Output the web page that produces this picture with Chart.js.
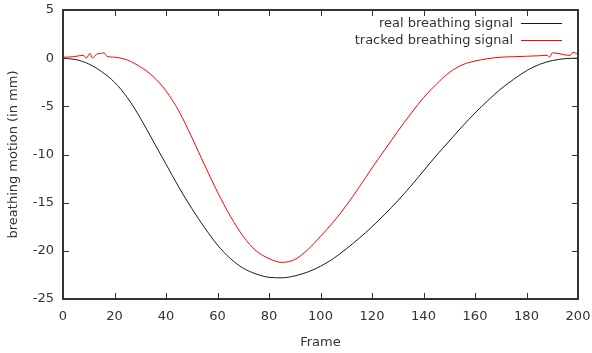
<!DOCTYPE html>
<html>
<head>
<meta charset="utf-8">
<script src="https://cdn.jsdelivr.net/npm/chart.js@4.4.1/dist/chart.umd.min.js"></script>
<style>
  body { margin: 0; background: #fff; }
  #wrap { width: 592px; height: 353px; }
</style>
</head>
<body>
<div id="wrap"><canvas id="chart"></canvas></div>
<script>
// real breathing signal (frame, mm)
const realFrames = [0, 5, 10, 15, 20, 25, 30, 35, 40, 45, 50, 55, 60, 65, 70, 75, 80, 85, 90, 95, 100,
    105, 110, 115, 120, 125, 130, 135, 140, 145, 150, 155, 160, 165, 170, 175, 180, 185, 190, 195, 200];
const realSignal = [0, -0.15, -0.6, -1.4, -2.5, -4.1, -6.2, -8.6, -11.0, -13.4, -15.6, -17.6, -19.4, -20.8, -21.8, -22.4, -22.75, -22.8, -22.6, -22.2, -21.6,
    -20.8, -19.8, -18.7, -17.5, -16.2, -14.8, -13.3, -11.7, -10.1, -8.6, -7.1, -5.7, -4.4, -3.2, -2.2, -1.3, -0.65, -0.25, -0.05, 0];

// tracked breathing signal (frame, mm)
const trackedFrames = [0, 4, 8, 9, 10.5, 11.5, 13, 15, 16, 17, 20, 25, 30, 35, 40, 45, 50, 55, 60, 65, 70, 75, 80, 85, 90,
    95, 100, 105, 110, 115, 120, 125, 130, 135, 140, 145, 150, 155, 160, 165, 170, 175, 180, 185, 188, 189, 190, 193, 196, 197, 198, 200];
const trackedSignal = [0.1, 0.15, 0.3, 0.0, 0.5, 0.0, 0.4, 0.5, 0.55, 0.2, 0.1, -0.2, -0.9, -1.9, -3.4, -5.5, -8.2, -11.1, -13.9, -16.4, -18.5, -20.0, -20.8, -21.2, -20.9,
    -19.9, -18.5, -17.0, -15.3, -13.4, -11.4, -9.5, -7.6, -5.8, -4.1, -2.7, -1.5, -0.7, -0.3, -0.05, 0.1, 0.15, 0.2, 0.25, 0.3, 0.1, 0.55, 0.45, 0.3, 0.3, 0.6, 0.4];

const xTicks = [0, 20, 40, 60, 80, 100, 120, 140, 160, 180, 200];
const yTicks = [-25, -20, -15, -10, -5, 0, 5];

const textColor = '#333';
const frameColor = '#333';
const font = { family: 'DejaVu Sans', size: 13 };

function toPoints(xs, ys) {
    return xs.map((x, i) => ({ x: x, y: ys[i] }));
}

// gnuplot style: full border, ticks pointing inwards on all four sides, legend top right
const gnuplotFrame = {
    id: 'gnuplotFrame',
    afterDatasetsDraw(chart) {
        const ctx = chart.ctx;
        const area = chart.chartArea;
        const xs = chart.scales.x;
        const ys = chart.scales.y;
        const tl = 6;
        ctx.save();
        ctx.strokeStyle = frameColor;
        ctx.lineWidth = 1;
        ctx.beginPath();
        xTicks.forEach(v => {
            const px = Math.round(xs.getPixelForValue(v)) + 0.5;
            ctx.moveTo(px, area.bottom);
            ctx.lineTo(px, area.bottom - tl);
            ctx.moveTo(px, area.top);
            ctx.lineTo(px, area.top + tl);
        });
        yTicks.forEach(v => {
            const py = Math.round(ys.getPixelForValue(v)) + 0.5;
            ctx.moveTo(area.left, py);
            ctx.lineTo(area.left + tl, py);
            ctx.moveTo(area.right, py);
            ctx.lineTo(area.right - tl, py);
        });
        ctx.stroke();

        ctx.lineWidth = 2;
        ctx.strokeRect(area.left, area.top, area.right - area.left, area.bottom - area.top);

        // legend
        ctx.font = font.size + 'px ' + font.family;
        ctx.textAlign = 'right';
        ctx.textBaseline = 'middle';
        chart.data.datasets.forEach((ds, i) => {
            const y = area.top + 14 + i * 17;
            ctx.fillStyle = textColor;
            ctx.fillText(ds.label, area.left + 450, y);
            ctx.strokeStyle = ds.borderColor;
            ctx.lineWidth = 1;
            ctx.beginPath();
            ctx.moveTo(area.left + 458, Math.round(y) - 0.5);
            ctx.lineTo(area.left + 499, Math.round(y) - 0.5);
            ctx.stroke();
        });
        ctx.restore();
    }
};

new Chart(document.getElementById('chart'), {
    type: 'line',
    data: {
        datasets: [
            {
                label: 'real breathing signal',
                data: toPoints(realFrames, realSignal),
                borderColor: '#1a1a1a',
                borderWidth: 1,
                pointRadius: 0,
                cubicInterpolationMode: 'monotone',
                fill: false
            },
            {
                label: 'tracked breathing signal',
                data: toPoints(trackedFrames, trackedSignal),
                borderColor: '#ff0000',
                borderWidth: 1,
                pointRadius: 0,
                cubicInterpolationMode: 'monotone',
                fill: false
            }
        ]
    },
    options: {
        responsive: true,
        maintainAspectRatio: false,
        animation: false,
        layout: { padding: { top: 10, right: 14, left: 0, bottom: 0 } },
        plugins: {
            legend: { display: false },
            tooltip: { enabled: false }
        },
        scales: {
            x: {
                type: 'linear',
                min: 0,
                max: 200,
                afterFit(scale) { scale.height = 54; scale.paddingLeft = 0; scale.paddingRight = 0; },
                afterBuildTicks(scale) { scale.ticks = xTicks.map(v => ({ value: v })); },
                grid: { display: false, drawTicks: false },
                border: { display: false },
                ticks: { color: textColor, font: font, padding: 10, maxRotation: 0 },
                title: { display: true, text: 'Frame', color: textColor, font: font, padding: { top: 0, bottom: 3 } }
            },
            y: {
                min: -25,
                max: 5,
                afterFit(scale) { scale.width = 63; scale.paddingTop = 0; scale.paddingBottom = 0; },
                afterBuildTicks(scale) { scale.ticks = yTicks.map(v => ({ value: v })); },
                grid: { display: false, drawTicks: false },
                border: { display: false },
                ticks: { color: textColor, font: font, padding: 9 },
                title: { display: true, text: 'breathing motion (in mm)', color: textColor, font: font, padding: { top: 6, bottom: 0 } }
            }
        }
    },
    plugins: [gnuplotFrame]
});
</script>
</body>
</html>
